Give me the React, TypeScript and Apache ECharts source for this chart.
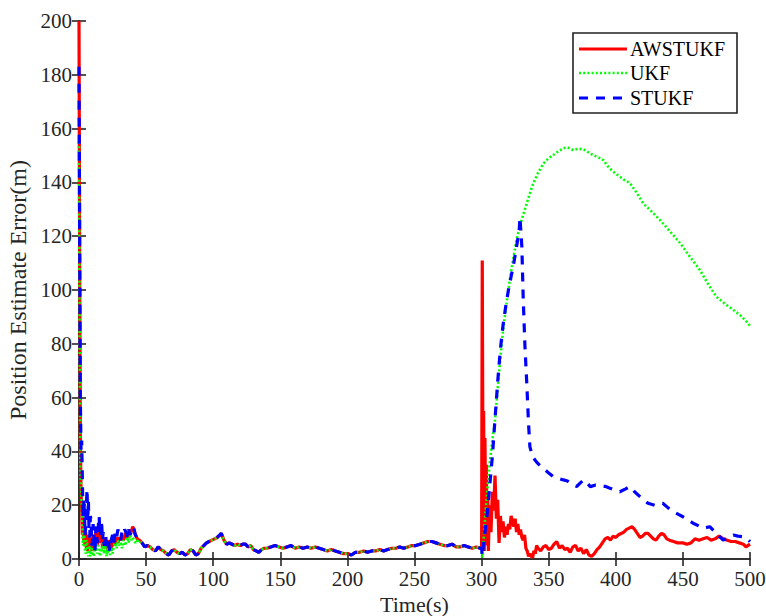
import React, { useEffect, useRef } from "react";
import * as echarts from "echarts";

const seriesNames = ["AWSTUKF", "UKF", "STUKF"];
const seriesColors = ["#ff0000", "#00ff00", "#0000ff"];
const xAxisTitle = "Time(s)";
const yAxisTitle = "Position Estimate Error(m)";
const xRange = [0, 500, 50];
const yRange = [0, 200, 20];

// AWSTUKF (red, solid)
const awstukfEarly: number[][] = [
  [0, 200], [0.5, 110], [1, 45], [1.5, 25], [2, 18], [2.5, 9], [3, 12], [3.5, 6], [4, 8], [4.5, 5],
  [5, 10], [5.5, 4], [6, 6], [6.5, 3], [7, 9], [7.5, 5], [8, 4], [8.5, 8], [9, 7], [9.5, 3],
  [10, 5], [10.5, 9], [11, 8], [11.5, 4], [12, 6], [12.5, 10], [13, 9], [13.5, 5], [14, 7],
  [14.5, 9], [15, 10], [15.5, 6], [16, 6], [16.5, 9], [17, 8], [17.5, 4], [18, 5], [18.5, 8],
  [19, 7], [19.5, 4], [20, 4], [20.5, 7], [21, 6], [21.5, 3], [22, 5], [23, 7], [24, 4], [25, 6],
  [26, 5], [27, 7], [28, 8], [29, 6], [30, 8], [31, 7], [32, 9], [33, 7], [34, 8], [35, 10],
  [36, 8], [37, 9], [38, 11], [39, 10], [40, 12], [41, 11], [42, 9], [43, 8], [44, 7],
];
const awstukfLate: number[][] = [
  [300, 4], [300.5, 111], [301, 30], [301.5, 55], [302, 3], [302.5, 45], [303, 15], [303.5, 35],
  [304, 5], [304.5, 25], [305, 3], [306, 20], [307, 10], [308, 25], [309, 18], [310, 31],
  [311, 15], [312, 22], [313, 6], [314, 16], [315, 10], [316, 14], [317, 8], [318, 12], [319, 9],
  [320, 13], [321, 11], [322, 16], [323, 14], [324, 12], [325, 15], [326, 10], [327, 13], [328, 9],
  [329, 11], [330, 8], [331, 7], [332, 9], [333, 4], [334, 3], [335, 1], [336, 2], [337, 1],
  [338, 0.5], [339, 3], [340, 2], [341, 5], [342, 4], [344, 3], [346, 4.5], [348, 5], [350, 3.5],
  [352, 4], [354, 5.5], [356, 6.5], [358, 4], [360, 5], [362, 3.5], [364, 4], [366, 2.5], [368, 4.5],
  [370, 5], [372, 3], [374, 4], [376, 2], [378, 3.5], [380, 1.5], [382, 1], [384, 2], [386, 3.5],
  [388, 4.5], [390, 6], [392, 7.5], [394, 8], [396, 7], [398, 8.5], [400, 8], [402, 9], [404, 9.5],
  [406, 10], [408, 11], [410, 11.5], [412, 12], [414, 11], [416, 9.5], [418, 8], [420, 8.5],
  [422, 9.5], [424, 9.5], [426, 8.5], [428, 7.5], [430, 7], [432, 8.5], [434, 9.5], [436, 9],
  [438, 7.5], [440, 7], [443, 6.5], [446, 6], [450, 6], [453, 5.5], [456, 6], [459, 7.5], [462, 7],
  [465, 7.5], [468, 8], [471, 7], [474, 7.5], [477, 8.5], [480, 7.5], [483, 7], [486, 6.5],
  [489, 6.5], [492, 6], [495, 5.5], [497, 4.5], [500, 5.5],
];

// UKF (green, dotted)
const ukfEarly: number[][] = [
  [0, 155], [0.5, 80], [1, 35], [1.5, 28], [2, 20], [2.5, 12], [3, 5], [3.5, 9], [4, 8], [4.5, 3],
  [5, 2], [5.5, 7], [6, 6], [6.5, 2], [7, 1], [7.5, 5], [8, 4], [8.5, 1], [9, 2], [9.5, 6],
  [10, 5], [10.5, 2], [11, 1], [11.5, 4], [12, 3], [12.5, 7], [13, 6], [13.5, 2], [14, 2],
  [14.5, 5], [15, 4], [15.5, 1], [16, 1], [16.5, 4], [17, 3], [17.5, 6], [18, 5], [18.5, 2],
  [19, 2], [19.5, 5], [20, 4], [20.5, 1], [21, 1], [21.5, 4], [22, 3], [23, 1.5], [24, 4], [25, 2],
  [26, 5], [27, 6], [28, 4], [29, 7], [30, 5], [31, 6], [32, 4], [33, 7], [34, 5], [35, 6], [36, 8],
  [37, 6], [38, 9], [39, 7], [40, 8], [41, 7], [42, 6], [43, 7], [44, 6],
];
const ukfLate: number[][] = [
  [300, 4], [300.5, 0.5], [303, 18], [306, 35.6], [308, 44], [310, 51.7], [312.5, 66.5], [314, 75],
  [316, 85], [318, 93], [321, 103.7], [323, 110], [326, 118.6], [329.8, 126], [333.5, 132],
  [336, 136], [338.5, 139.7], [342, 143.5], [346, 147], [350, 149], [353.4, 150.2], [357, 151.5],
  [361, 152.7], [364, 153], [368.3, 152], [372, 152.5], [376, 152.3], [380, 151], [383, 150.2],
  [387, 149.3], [390.7, 148.3], [394, 146], [398, 144], [402, 142.5], [406, 141], [410.6, 139.7],
  [415, 136.5], [420.5, 132.2], [426, 129.5], [433, 126], [440, 122], [448, 117.4], [455, 112.5],
  [462.7, 107.4], [469, 102], [475, 97.5], [481, 95], [487.6, 92.6], [493, 90.5], [498.7, 87.6],
  [500, 86.5],
];

// STUKF (blue, dashed)
const stukfEarly: number[][] = [
  [0, 183], [0.5, 120], [1, 60], [1.5, 40], [2, 44], [2.5, 30], [3, 15], [3.5, 22], [4, 18],
  [4.5, 9], [5, 12], [5.5, 20], [6, 26], [6.5, 14], [7, 22], [7.5, 10], [8, 8], [8.5, 16], [9, 14],
  [9.5, 5], [10, 6], [10.5, 13], [11, 10], [11.5, 3], [12, 4], [12.5, 11], [13, 12], [13.5, 6],
  [14, 8], [14.5, 13], [15, 16], [15.5, 10], [16, 9], [16.5, 14], [17, 12], [17.5, 7], [18, 10],
  [18.5, 6], [19, 5], [19.5, 9], [20, 8], [20.5, 4], [21, 6], [22, 6], [23, 3], [24, 7], [25, 9],
  [26, 6], [27, 10], [28, 8], [29, 11], [30, 9], [31, 7], [32, 10], [33, 9], [34, 11], [35, 10],
  [36, 8], [37, 11], [38, 9], [39, 10], [40, 12], [41, 11], [42, 9], [43, 8], [44, 7],
];
const stukfLate: number[][] = [
  [300, 4], [300.5, 1], [302, 8], [304, 16], [306, 27], [308, 38], [310, 52], [312, 66], [314, 78],
  [316, 87], [318, 94], [320, 100], [322, 105], [324, 110], [326, 116], [328, 122], [328.6, 127],
  [330, 116], [331, 97], [332.3, 79], [333.6, 66], [335, 50], [336, 41.7], [338, 38], [341, 36],
  [344, 34.5], [346, 33.7], [350, 32], [353.5, 30.6], [357, 30], [361, 29.4], [364, 29],
  [368, 27.5], [371, 27], [373, 28], [376, 29.4], [379, 28], [381, 26.9], [385, 27.5], [388, 27.1],
  [392, 27], [395.7, 26.3], [400, 25.5], [403, 25], [407, 26], [410.5, 26.9], [414, 25],
  [418, 23.2], [421, 22], [424, 20.7], [429, 20], [432, 20.5], [435, 20.7], [439, 19], [443, 17.6],
  [447, 16.5], [450, 15.7], [454, 14.5], [457.6, 13.3], [461, 12.5], [465, 11.4], [470, 12],
  [473, 10.5], [475, 9.5], [478, 8], [480, 7], [484, 8], [487.6, 8.9], [491, 8.5], [495, 8.3],
  [498, 7.5], [500, 6.5],
];

// Segment 45–299 s, where the three filters overlap
const sharedMid: number[][] = [
  [45, 7], [47, 6], [49, 4.5], [51, 5], [53, 4.5], [55, 3.5], [57, 3], [59, 4.5], [61, 3.5],
  [63, 3], [65, 2], [67, 1.5], [69, 3], [71, 3.5], [73, 2.5], [75, 2], [77, 2.5], [79, 1.5],
  [81, 2], [83, 3.5], [85, 3], [87, 1.5], [89, 2], [91, 4], [93, 5], [95, 6], [97, 6.5], [99, 7],
  [101, 7.5], [103, 8], [105, 9], [106, 9.5], [108, 7], [110, 5.5], [112, 6], [114, 5.5], [116, 5],
  [118, 5.5], [120, 5], [122, 5.5], [124, 5.5], [126, 4.5], [128, 5], [130, 3.5], [132, 3],
  [134, 2.5], [136, 3.5], [138, 4], [140, 4], [143, 4.5], [146, 5], [149, 4.5], [152, 4],
  [155, 4.5], [158, 5], [161, 4], [164, 4.5], [167, 4], [170, 4.5], [173, 4], [176, 4.5], [179, 4],
  [182, 3.5], [185, 3], [188, 3.5], [191, 3], [194, 2.5], [197, 2], [200, 2], [203, 1.5],
  [206, 2.5], [209, 2.5], [212, 3], [215, 2.5], [218, 3], [221, 3], [224, 3.5], [227, 3],
  [230, 3.5], [233, 4], [236, 4], [239, 4.5], [242, 4], [245, 4.5], [248, 5], [251, 5], [254, 5.5],
  [257, 6], [260, 6.5], [263, 6.5], [266, 6], [269, 5.5], [272, 5], [275, 5], [278, 5.5],
  [281, 4.5], [284, 4.5], [287, 5], [290, 4.5], [293, 4], [296, 4.5], [299, 4],
];

const FONT = "Liberation Serif, Times New Roman, serif";
const AXIS_COLOR = "#262626";
const lineTypes: any[] = ["solid", [2, 2.2], [9, 8]];
const lineWidths = [3.2, 2.6, 3.2];

export default function App() {
  const ref = useRef<HTMLDivElement>(null);

  useEffect(() => {
    if (!ref.current) return;
    const chart = echarts.init(ref.current, undefined, { renderer: "svg" });

    const axisLine = { show: true, lineStyle: { color: AXIS_COLOR, width: 1.6 } };
    const axisTick = { show: true, inside: true, length: 7, lineStyle: { color: AXIS_COLOR, width: 1.6 } };
    const axisLabel = { color: AXIS_COLOR, fontFamily: FONT, fontSize: 21 };

    const legendX = 573;
    const legendY = 33;
    const legendRows = [49, 73, 98];
    const legendElements: any[] = [
      {
        type: "rect",
        z: 100,
        shape: { x: legendX, y: legendY, width: 164, height: 80 },
        style: { fill: "#fff", stroke: "#222", lineWidth: 1.6 },
      },
    ];
    seriesNames.forEach((name, i) => {
      legendElements.push({
        type: "line",
        z: 101,
        shape: { x1: 579, y1: legendRows[i], x2: 627, y2: legendRows[i] },
        style: {
          stroke: seriesColors[i],
          lineWidth: lineWidths[i],
          lineDash: i === 0 ? null : lineTypes[i],
        },
      });
      legendElements.push({
        type: "text",
        z: 101,
        x: 630,
        y: legendRows[i],
        style: {
          text: name,
          fontFamily: FONT,
          fontSize: 20,
          fill: "#000",
          verticalAlign: "middle",
          align: "left",
        },
      });
    });

    const option: any = {
      animation: false,
      backgroundColor: "#ffffff",
      grid: {
        left: 79,
        top: 21,
        width: 671,
        height: 538,
        containLabel: false,
        outerBoundsMode: "none",
      },
      graphic: legendElements,
      xAxis: [
        {
          type: "value",
          min: xRange[0],
          max: xRange[1],
          interval: xRange[2],
          position: "bottom",
          name: xAxisTitle,
          nameLocation: "middle",
          nameGap: 33,
          nameTextStyle: { fontFamily: FONT, fontSize: 22, color: AXIS_COLOR },
          axisLine,
          axisTick,
          axisLabel: { ...axisLabel, margin: 9 },
          splitLine: { show: false },
        },
        {
          type: "value",
          min: xRange[0],
          max: xRange[1],
          interval: xRange[2],
          position: "top",
          axisLine,
          axisTick,
          axisLabel: { show: false },
          splitLine: { show: false },
        },
      ],
      yAxis: [
        {
          type: "value",
          min: yRange[0],
          max: yRange[1],
          interval: yRange[2],
          position: "left",
          name: yAxisTitle,
          nameLocation: "middle",
          nameGap: 36,
          nameTextStyle: { fontFamily: FONT, fontSize: 24, color: AXIS_COLOR },
          axisLine,
          axisTick,
          axisLabel: { ...axisLabel, margin: 7 },
          splitLine: { show: false },
        },
        {
          type: "value",
          min: yRange[0],
          max: yRange[1],
          interval: yRange[2],
          position: "right",
          axisLine,
          axisTick,
          axisLabel: { show: false },
          splitLine: { show: false },
        },
      ],
      series: [
        {
          name: seriesNames[0],
          type: "line",
          showSymbol: false,
          symbol: "none",
          data: [...awstukfEarly, ...sharedMid, ...awstukfLate],
          lineStyle: { color: seriesColors[0], width: lineWidths[0], type: lineTypes[0] },
          itemStyle: { color: seriesColors[0] },
        },
        {
          name: seriesNames[1],
          type: "line",
          showSymbol: false,
          symbol: "none",
          data: [...ukfEarly, ...sharedMid, ...ukfLate],
          lineStyle: { color: seriesColors[1], width: lineWidths[1], type: lineTypes[1] },
          itemStyle: { color: seriesColors[1] },
        },
        {
          name: seriesNames[2],
          type: "line",
          showSymbol: false,
          symbol: "none",
          data: [...stukfEarly, ...sharedMid, ...stukfLate],
          lineStyle: { color: seriesColors[2], width: lineWidths[2], type: lineTypes[2] },
          itemStyle: { color: seriesColors[2] },
        },
      ],
    };

    chart.setOption(option);
    return () => chart.dispose();
  }, []);

  return (
    <div
      ref={ref}
      style={{ position: "fixed", left: 0, top: 0, width: 766, height: 616, background: "#fff" }}
    />
  );
}
